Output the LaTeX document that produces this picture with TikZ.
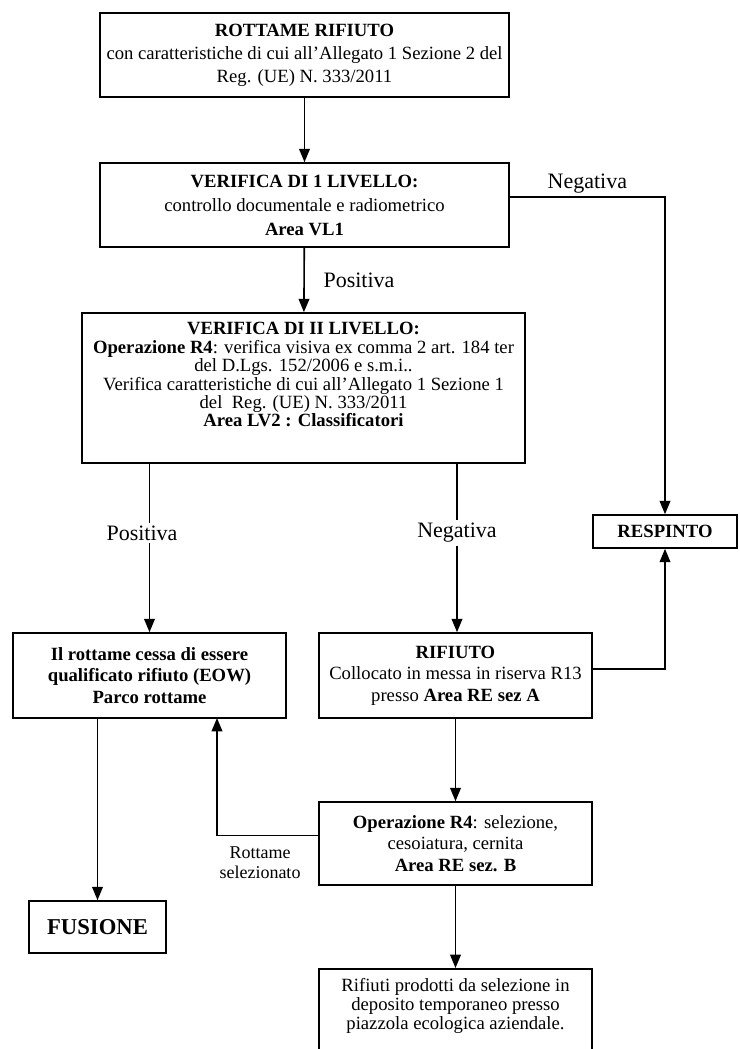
\documentclass[tikz,border=0pt]{standalone}
\usepackage{fontspec}
\setmainfont{Liberation Serif}
\usetikzlibrary{arrows.meta}

\begin{document}
\begin{tikzpicture}[x=0.75pt,y=-0.75pt,
  box/.style={draw, line width=1.2pt, align=center, inner sep=1pt, font=\fontsize{14}{17.25}\selectfont},
  lbl/.style={font=\fontsize{16.5}{19}\selectfont, inner sep=2pt},
  flow/.style={line width=1.2pt},
  arr/.style={line width=1.2pt, -{Triangle[width=8pt,length=10pt]}}]
\useasboundingbox (0,0) rectangle (739,1049);
\node[box, minimum width=306.75pt, minimum height=63pt] (rottame) at (304.5,55) {\textbf{ROTTAME RIFIUTO}\\con caratteristiche di cui all’Allegato 1 Sezione 2 del\\Reg. (UE) N. 333/2011};
\node[box, minimum width=306.75pt, minimum height=63pt, font=\fontsize{14}{18}\selectfont] (livello1) at (304.5,205) {\textbf{VERIFICA DI 1 LIVELLO:}\\controllo documentale e radiometrico\\\textbf{Area VL1}};
\node[box, minimum width=332.25pt, minimum height=112.5pt, font=\fontsize{14}{13.8}\selectfont] (livello2) at (303.5,388) {\textbf{VERIFICA DI II LIVELLO:}\\\textbf{Operazione R4}: verifica visiva ex comma 2 art. 184 ter\\del D.Lgs. 152/2006 e s.m.i..\\Verifica caratteristiche di cui all’Allegato 1 Sezione 1\\del\ \ Reg. (UE) N. 333/2011\\\textbf{Area LV2 : Classificatori}\rule[-20pt]{0pt}{0pt}};
\node[box, minimum width=108pt, minimum height=24.75pt, font=\fontsize{14}{16}\selectfont\bfseries] (respinto) at (665,531.5) {RESPINTO};
\node[box, minimum width=204.75pt, minimum height=63.75pt, font=\fontsize{14}{16}\selectfont\bfseries] (eow) at (149.5,675.5) {Il rottame cessa di essere\\qualificato rifiuto (EOW)\\Parco rottame};
\node[box, minimum width=204.75pt, minimum height=63.75pt, font=\fontsize{14}{16}\selectfont] (rifiuto) at (455.5,675.5) {\textbf{RIFIUTO}\\Collocato in messa in riserva R13\\presso \textbf{Area RE sez A}};
\node[box, minimum width=204.75pt, minimum height=62.25pt, font=\fontsize{14}{16}\selectfont] (selezione) at (455.5,843.5) {\textbf{Operazione R4}: selezione,\\cesoiatura, cernita\\\textbf{Area RE sez. B}};
\node[box, minimum width=102.75pt, minimum height=39pt, font=\fontsize{17}{20}\selectfont\bfseries] (fusione) at (97.5,927) {FUSIONE};
\node[box, anchor=north, minimum width=204.75pt, inner ysep=7pt, font=\fontsize{14}{14.5}\selectfont] (deposito) at (455.5,968) {Rifiuti prodotti da selezione in\\deposito temporaneo presso\\piazzola ecologica aziendale.\rule[-30pt]{0pt}{0pt}};

\node[lbl] (pos2) at (142,533) {Positiva};
\node[lbl] (neg2) at (457,533) {Negativa};
\node[align=center, font=\fontsize{13.5}{15}\selectfont, inner sep=1pt] (selezionato) at (260,863) {Rottame\\selezionato};
\coordinate (ritorno) at (217,718);

\draw[arr] (rottame) -- (livello1);
\draw[arr] (livello1) -- node[lbl, right=12pt] (pos1) {Positiva} (livello2);
\draw[arr] ([yshift=6pt]livello1.east) -| node[lbl, pos=0.25, above] (neg1) {Negativa} (respinto.north);
\draw[flow] (livello2.south -| eow) -- (pos2.north -| eow);
\draw[arr] (pos2.south -| eow) -- (eow.north);
\draw[flow] (livello2.south -| neg2) -- (neg2.north);
\draw[arr] (neg2.south) -- (rifiuto.north -| neg2);
\draw[arr] ([yshift=5pt]rifiuto.east) -| (respinto.south);
\draw[arr] (rifiuto) -- (selezione);
\draw[arr] ([yshift=6pt]selezione.west) -| (ritorno);
\draw[arr] (fusione.north |- eow.south) -- (fusione.north);
\draw[arr] (selezione) -- (deposito);
\end{tikzpicture}
\end{document}
